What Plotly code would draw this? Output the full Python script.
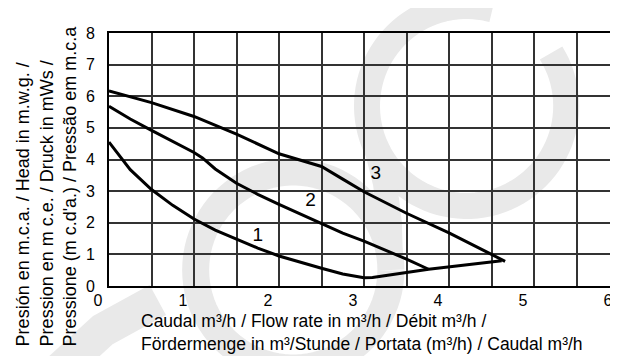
import math
import plotly.graph_objects as go

# ---- data ----
curve1_x = [0, 0.25, 0.5, 0.75, 1.0, 1.25, 1.5, 1.75, 2.0, 2.25, 2.5, 2.75, 3.0]
curve1_y = [4.55, 3.68, 3.05, 2.55, 2.12, 1.77, 1.48, 1.2, 0.95, 0.75, 0.56, 0.38, 0.26]

curve2_x = [0, 0.25, 0.5, 0.75, 1.0, 1.1, 1.25, 1.5, 1.75, 2.0, 2.25, 2.5, 2.75, 3.0, 3.25, 3.5, 3.76]
curve2_y = [5.68, 5.28, 4.92, 4.58, 4.22, 4.05, 3.7, 3.25, 2.9, 2.58, 2.27, 1.96, 1.67, 1.42, 1.14, 0.85, 0.53]

curve3_x = [0, 0.5, 1.0, 1.5, 2.0, 2.25, 2.5, 2.75, 3.0, 3.5, 4.0, 4.5, 4.66]
curve3_y = [6.17, 5.8, 5.36, 4.8, 4.18, 3.98, 3.78, 3.38, 2.98, 2.3, 1.68, 1.0, 0.78]

limit_x = [3.0, 3.1, 3.76, 4.62]
limit_y = [0.26, 0.27, 0.53, 0.8]

curve_labels = ["1", "2", "3"]
label_x = [1.75, 2.37, 3.14]
label_y = [1.57, 2.68, 3.52]

x_ticks = [0, 1, 2, 3, 4, 5, 6]
y_ticks = [0, 1, 2, 3, 4, 5, 6, 7, 8]

y_title = ("Presión en m.c.a. / Head in m.w.g. /<br>"
           "Pression en m c.e. / Druck in mWs /<br>"
           "Pressione (m c.d'a.) / Pressão em m.c.a")
x_title = ("Caudal m³/h / Flow rate in m³/h / Débit m³/h /<br>"
           "Fördermenge in m³/Stunde / Portata (m³/h) / Caudal m³/h")

# ---- layout geometry (pixels) ----
W, H = 618, 356
L, R, T, B = 101, 5, 25, 78
PW, PH = W - L - R, H - T - B
FONT = "Liberation Sans, Arial, Helvetica, sans-serif"


def px2paper(px, py):
    return (px - L) / PW, (H - B - py) / PH


def path_from_pixels(pts):
    s = []
    for i, (px, py) in enumerate(pts):
        xp, yp = px2paper(px, py)
        s.append(("M" if i == 0 else "L") + f"{xp:.5f},{yp:.5f}")
    return " ".join(s)


def arc_pixels(cx, cy, r, a0, a1, n=90):
    pts = []
    for i in range(n + 1):
        a = math.radians(a0 + (a1 - a0) * i / n)
        pts.append((cx + r * math.cos(a), cy - r * math.sin(a)))
    return pts


fig = go.Figure()

for xs, ys in [(curve1_x, curve1_y), (curve2_x, curve2_y), (curve3_x, curve3_y), (limit_x, limit_y)]:
    fig.add_trace(go.Scatter(x=xs, y=ys, mode="lines",
                             line=dict(color="black", width=3),
                             showlegend=False, hoverinfo="skip"))

fig.add_trace(go.Scatter(x=label_x, y=label_y, mode="text", text=curve_labels,
                         textfont=dict(family=FONT, size=19, color="black"),
                         showlegend=False, hoverinfo="skip"))

# ---- watermark (decorative light-grey logo strokes) ----
wm = "#e9e9e9"
shapes = []
ringA = arc_pixels(460, 98, 100, 75, 392)
shapes.append(dict(type="path", path=path_from_pixels(ringA), xref="paper", yref="paper",
                   line=dict(color=wm, width=26), layer="below"))
ringB = arc_pixels(286, 262, 98, 0, 360)
shapes.append(dict(type="path", path=path_from_pixels(ringB), xref="paper", yref="paper",
                   line=dict(color=wm, width=27), layer="below"))
connector = [(384, 250), (383, 215), (378, 175), (368, 135)]
shapes.append(dict(type="path", path=path_from_pixels(connector), xref="paper", yref="paper",
                   line=dict(color=wm, width=24), layer="below"))
corner = [(40, 372), (95, 322), (150, 292)]
shapes.append(dict(type="path", path=path_from_pixels(corner), xref="paper", yref="paper",
                   line=dict(color=wm, width=34), layer="below"))

annotations = [
    dict(text=y_title, xref="paper", yref="paper",
         x=px2paper(3, 0)[0], y=px2paper(0, 340)[1], xanchor="left", yanchor="bottom",
         textangle=-90, align="left", showarrow=False,
         font=dict(family=FONT, size=18, color="black")),
    dict(text=x_title, xref="paper", yref="paper",
         x=px2paper(131, 0)[0], y=px2paper(0, 301)[1], xanchor="left", yanchor="top",
         align="left", showarrow=False,
         font=dict(family=FONT, size=17.5, color="black")),
]

fig.update_layout(
    width=W, height=H,
    margin=dict(l=L, r=R, t=T, b=B),
    paper_bgcolor="white", plot_bgcolor="rgba(0,0,0,0)",
    font=dict(family=FONT, size=16, color="black"),
    shapes=shapes, annotations=annotations,
    xaxis=dict(range=[0, 6], tickmode="array", tickvals=x_ticks,
               ticktext=[str(v) for v in x_ticks],
               showgrid=True, gridcolor="#333333", gridwidth=1.5,
               minor=dict(dtick=0.5, showgrid=True, gridcolor="#333333", gridwidth=1.5),
               showline=True, linecolor="black", linewidth=2, mirror=True,
               zeroline=False, ticks="", ticklen=0, ticklabelshift=-11, ticklabelstandoff=-1,
               ticklabeloverflow="allow",
               tickfont=dict(family=FONT, size=16), fixedrange=True),
    yaxis=dict(range=[0, 8], tickmode="array", tickvals=y_ticks,
               ticktext=[str(v) for v in y_ticks],
               showgrid=True, gridcolor="#333333", gridwidth=1.5,
               showline=True, linecolor="black", linewidth=2, mirror=True,
               zeroline=False, ticks="", ticklen=0, ticklabelstandoff=9,
               tickfont=dict(family=FONT, size=16), fixedrange=True),
)

fig.write_html("out.html")
